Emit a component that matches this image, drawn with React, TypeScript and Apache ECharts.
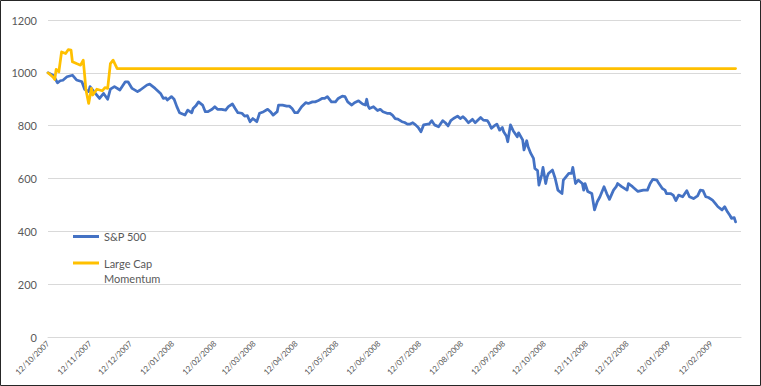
import React, { useEffect, useRef } from "react";
import * as echarts from "echarts";

// Start of the series (dd/mm/yyyy) and tick labels shown on the date axis
const startDate = "12/10/2007";
const tickLabels = [
  "12/10/2007", "12/11/2007", "12/12/2007", "12/01/2008", "12/02/2008", "12/03/2008",
  "12/04/2008", "12/05/2008", "12/06/2008", "12/07/2008", "12/08/2008", "12/09/2008",
  "12/10/2008", "12/11/2008", "12/12/2008", "12/01/2009", "12/02/2009",
];
const axisEndDay = 511;

// S&P 500 (indexed to 1000), days since start
const spDays = [
  0, 4, 7, 9, 11, 14, 18, 21, 24, 25,
  27, 30, 31, 33, 36, 38, 41, 44, 46, 49,
  53, 57, 59, 62, 66, 68, 73, 75, 79, 83,
  85, 87, 88, 91, 93, 95, 97, 101, 103, 106,
  107, 109, 111, 114, 116, 118, 121, 123, 125, 128,
  131, 133, 136, 138, 140, 143, 145, 147, 149, 151,
  154, 156, 159, 162, 164, 166, 169, 170, 173, 176,
  178, 180, 182, 184, 187, 190, 192, 195, 197, 199,
  202, 204, 206, 209, 212, 214, 217, 219, 221, 224,
  226, 229, 232, 234, 235, 236, 237, 240, 243, 245,
  247, 250, 252, 254, 256, 258, 261, 263, 265, 267,
  269, 271, 273, 275, 277, 280, 281, 283, 285, 288,
  291, 293, 295, 297, 299, 302, 304, 306, 308, 310,
  313, 315, 319, 321, 324, 325, 327, 329, 331, 333,
  335, 336, 338, 339, 341, 343, 346, 347, 350, 351,
  353, 354, 356, 358, 359, 361, 362, 364, 365, 367,
  368, 369, 372, 374, 376, 379, 380, 383, 384, 386,
  387, 389, 391, 394, 395, 396, 398, 401, 403, 405,
  407, 410, 412, 414, 417, 419, 420, 423, 427, 428,
  431, 435, 439, 442, 444, 446, 449, 450, 453, 455,
  456, 459, 461, 463, 465, 468, 471, 473, 476, 479,
  481, 483, 485, 487, 490, 492, 494, 497, 499, 501,
  503, 504, 506, 507,
];
const spValues = [
  1000, 990, 962, 970, 972, 985, 991, 973, 968, 966,
  938, 929, 948, 935, 916, 903, 922, 900, 938, 948,
  935, 966, 966, 941, 929, 935, 954, 957, 941, 922,
  903, 905, 897, 910, 900, 872, 849, 840, 859, 849,
  865, 875, 890, 878, 853, 853, 862, 872, 862, 862,
  859, 872, 882, 865, 849, 847, 836, 838, 815, 827,
  815, 847, 853, 862, 853, 840, 853, 878, 878, 874,
  874, 865, 849, 849, 872, 887, 884, 890, 890, 894,
  903, 903, 910, 890, 890, 903, 912, 910, 890, 878,
  887, 894, 882, 878, 900, 875, 865, 872, 857, 862,
  853, 847, 847, 840, 827, 825, 815, 812, 806, 806,
  811, 803, 793, 777, 803, 806, 806, 819, 803, 796,
  819, 811, 799, 819, 827, 836, 827, 834, 824, 811,
  824, 811, 831, 821, 819, 811, 790, 799, 806, 783,
  793, 777, 761, 739, 803, 781, 758, 773, 746, 708,
  743, 720, 695, 676, 638, 630, 575, 613, 642, 581,
  606, 619, 632, 600, 556, 543, 594, 613, 619, 619,
  642, 581, 594, 581, 556, 581, 551, 543, 481, 512,
  531, 569, 543, 521, 556, 569, 581, 569, 556, 581,
  569, 551, 556, 556, 581, 597, 594, 585, 562, 556,
  543, 543, 537, 516, 537, 531, 554, 531, 524, 534,
  556, 554, 531, 528, 518, 506, 493, 481, 493, 474,
  459, 449, 452, 436,
];

// Large Cap Momentum (indexed to 1000), days since start
const lcmDays = [0, 4, 5, 6, 8, 10, 13, 15, 17, 18, 21, 24, 26, 27, 28, 30, 32, 33, 36, 40, 42, 44, 46, 48, 51, 507];
const lcmValues = [1000, 982, 975, 1013, 1004, 1079, 1073, 1088, 1086, 1042, 1035, 1029, 1048, 992, 935, 884, 941, 916, 938, 932, 944, 941, 1035, 1048, 1016, 1016];

const seriesNames = ["S&P 500", "Large Cap Momentum"];
const legendLabels = ["S&P 500", "Large Cap\nMomentum"];
const seriesColors = ["#4472C4", "#FFC000"];

function parseDMY(s: string, addDays = 0): number {
  const [d, m, y] = s.split("/").map(Number);
  return Date.UTC(y, m - 1, d + addDays);
}

export default function App() {
  const ref = useRef<HTMLDivElement>(null);

  useEffect(() => {
    if (!ref.current) return;
    const chart = echarts.init(ref.current, null, { renderer: "svg" });
    const tickTimes = tickLabels.map((t) => parseDMY(t));
    const labelMap: Record<string, string> = {};
    tickLabels.forEach((t, i) => (labelMap[String(tickTimes[i])] = t));

    const font = "Lato, 'Liberation Sans', sans-serif";
    const textColor = "#595959";

    chart.setOption({
      animation: false,
      backgroundColor: "#ffffff",
      textStyle: { fontFamily: font },
      grid: { left: 48, right: 20, top: 20, bottom: 49 },
      xAxis: {
        type: "value",
        min: parseDMY(startDate),
        max: parseDMY(startDate, axisEndDay),
        axisLine: { show: true, onZero: false, lineStyle: { color: "#D9D9D9", width: 1 } },
        axisTick: { show: false },
        splitLine: { show: false },
        axisLabel: {
          customValues: tickTimes,
          rotate: 45,
          fontSize: 8,
          fontFamily: font,
          color: textColor,
          margin: 5,
          hideOverlap: false,
          formatter: (v: number) => labelMap[String(v)] ?? "",
        },
      },
      yAxis: {
        type: "value",
        min: 0,
        max: 1200,
        interval: 200,
        axisLine: { show: false },
        axisTick: { show: false },
        splitLine: { lineStyle: { color: "#D9D9D9", width: 1 } },
        axisLabel: {
          fontSize: 11,
          fontFamily: font,
          color: textColor,
          margin: 11,
          formatter: (v: number) => String(v),
        },
      },
      legend: [
        {
          data: [seriesNames[0]],
          orient: "vertical",
          left: 73,
          top: 231,
          padding: 0,
          icon: "rect",
          itemWidth: 26,
          itemHeight: 3,
          formatter: () => legendLabels[0],
          textStyle: { fontSize: 11, fontFamily: font, color: textColor },
        },
        {
          data: [seriesNames[1]],
          orient: "vertical",
          left: 73,
          top: 240.5,
          padding: 0,
          icon: "rect",
          itemWidth: 26,
          itemHeight: 3,
          formatter: () => "\n" + legendLabels[1],
          textStyle: { fontSize: 11, fontFamily: font, color: textColor, lineHeight: 15 },
        },
      ],
      series: [
        {
          type: "line",
          name: seriesNames[0],
          data: spDays.map((d, i) => [parseDMY(startDate, d), spValues[i]]),
          symbol: "none",
          itemStyle: { color: seriesColors[0] },
          lineStyle: { color: seriesColors[0], width: 2.75, join: "round", cap: "round" },
        },
        {
          type: "line",
          name: seriesNames[1],
          data: lcmDays.map((d, i) => [parseDMY(startDate, d), lcmValues[i]]),
          symbol: "none",
          itemStyle: { color: seriesColors[1] },
          lineStyle: { color: seriesColors[1], width: 2.75, join: "round", cap: "round" },
        },
      ],
      graphic: [
        {
          type: "rect",
          silent: true,
          z: 100,
          shape: { x: 0.5, y: 0.5, width: 760, height: 385 },
          style: { fill: "none", stroke: "#262626", lineWidth: 1 },
        },
      ],
    });

    return () => chart.dispose();
  }, []);

  return (
    <div
      ref={ref}
      style={{ position: "absolute", left: 0, top: 0, width: 761, height: 386 }}
    />
  );
}
